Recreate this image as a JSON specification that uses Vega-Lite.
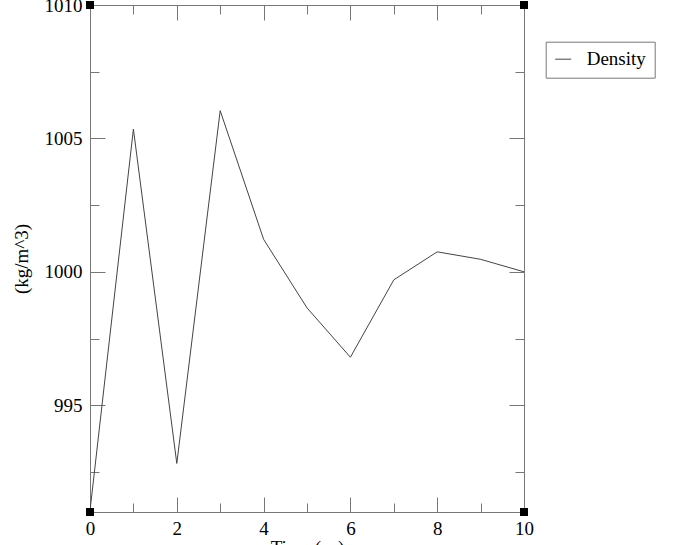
{
  "$schema": "https://vega.github.io/schema/vega-lite/v6.json",
  "width": 434,
  "height": 507,
  "autosize": "none",
  "padding": {"left": 90, "top": 5, "right": 156, "bottom": 33},
  "background": "white",
  "config": {
    "view": {"stroke": "#777", "strokeWidth": 1},
    "axis": {
      "domain": false,
      "grid": false,
      "labelFont": "Liberation Serif",
      "labelFontSize": 19,
      "labelColor": "black",
      "labelFlush": false,
      "labelOverlap": false,
      "tickColor": "#777",
      "tickWidth": 1,
      "titleFont": "Liberation Serif",
      "titleFontSize": 19,
      "titleFontWeight": "normal",
      "titleColor": "black"
    }
  },
  "datasets": {
    "density": [
      {"time": 0, "density": 991.05},
      {"time": 1, "density": 1005.35},
      {"time": 2, "density": 992.82},
      {"time": 3, "density": 1006.04},
      {"time": 4, "density": 1001.22},
      {"time": 5, "density": 998.65},
      {"time": 6, "density": 996.8},
      {"time": 7, "density": 999.7},
      {"time": 8, "density": 1000.75},
      {"time": 9, "density": 1000.47},
      {"time": 10, "density": 1000.0}
    ],
    "corners": [
      {"time": 0, "density": 991},
      {"time": 10, "density": 991},
      {"time": 0, "density": 1010},
      {"time": 10, "density": 1010}
    ]
  },
  "layer": [
    {
      "data": {"name": "density"},
      "mark": {"type": "line", "strokeWidth": 1, "clip": true},
      "encoding": {
        "x": {"field": "time", "type": "quantitative",
          "scale": {"domain": [0, 10], "nice": false, "zero": false},
          "axis": {"orient": "bottom", "values": [0, 2, 4, 6, 8, 10], "format": "d", "ticks": false, "labelPadding": 7, "title": "Time (ps)", "titlePadding": 0}},
        "y": {"field": "density", "type": "quantitative",
          "scale": {"domain": [991, 1010], "nice": false, "zero": false},
          "axis": {"orient": "left", "values": [995, 1000, 1005, 1010], "format": "d", "ticks": false, "labelPadding": 8, "title": "(kg/m^3)", "titlePadding": 13}},
        "color": {"datum": "Density", "type": "nominal",
          "scale": {"range": ["#444"]},
          "legend": {"orient": "none", "legendX": 455.7, "legendY": 36.7, "title": null,
            "symbolType": "stroke", "symbolSize": 256, "symbolStrokeWidth": 1, "symbolStrokeColor": "#777",
            "strokeColor": "#777", "padding": 8, "fillColor": "white",
            "labelFont": "Liberation Serif", "labelFontSize": 19, "labelOffset": 14, "labelColor": "black"}}
      }
    },
    {
      "data": {"name": "density"},
      "mark": {"type": "point", "opacity": 0},
      "encoding": {
        "x": {"field": "time", "type": "quantitative",
          "axis": {"orient": "bottom", "values": [0, 2, 4, 6, 8, 10], "tickSize": -15, "labels": false, "title": null}},
        "y": {"field": "density", "type": "quantitative",
          "axis": {"orient": "left", "values": [995, 1000, 1005, 1010], "tickSize": -15, "labels": false, "title": null}}
      }
    },
    {
      "data": {"name": "density"},
      "mark": {"type": "point", "opacity": 0},
      "encoding": {
        "x": {"field": "time", "type": "quantitative",
          "axis": {"orient": "bottom", "values": [1, 3, 5, 7, 9], "tickSize": -9, "labels": false, "title": null}},
        "y": {"field": "density", "type": "quantitative",
          "axis": {"orient": "left", "values": [992.5, 997.5, 1002.5, 1007.5], "tickSize": -9, "labels": false, "title": null}}
      }
    },
    {
      "data": {"name": "density"},
      "mark": {"type": "point", "opacity": 0},
      "encoding": {
        "x": {"field": "time", "type": "quantitative",
          "axis": {"orient": "top", "values": [0, 2, 4, 6, 8, 10], "tickSize": -15, "labels": false, "title": null}},
        "y": {"field": "density", "type": "quantitative",
          "axis": {"orient": "right", "values": [995, 1000, 1005, 1010], "tickSize": -15, "labels": false, "title": null}}
      }
    },
    {
      "data": {"name": "density"},
      "mark": {"type": "point", "opacity": 0},
      "encoding": {
        "x": {"field": "time", "type": "quantitative",
          "axis": {"orient": "top", "values": [1, 3, 5, 7, 9], "tickSize": -9, "labels": false, "title": null}},
        "y": {"field": "density", "type": "quantitative",
          "axis": {"orient": "right", "values": [992.5, 997.5, 1002.5, 1007.5], "tickSize": -9, "labels": false, "title": null}}
      }
    },
    {
      "data": {"name": "corners"},
      "mark": {"type": "square", "filled": true, "color": "black", "size": 64, "opacity": 1},
      "encoding": {
        "x": {"field": "time", "type": "quantitative", "axis": null},
        "y": {"field": "density", "type": "quantitative", "axis": null}
      }
    }
  ],
  "resolve": {"axis": {"x": "independent", "y": "independent"}}
}
